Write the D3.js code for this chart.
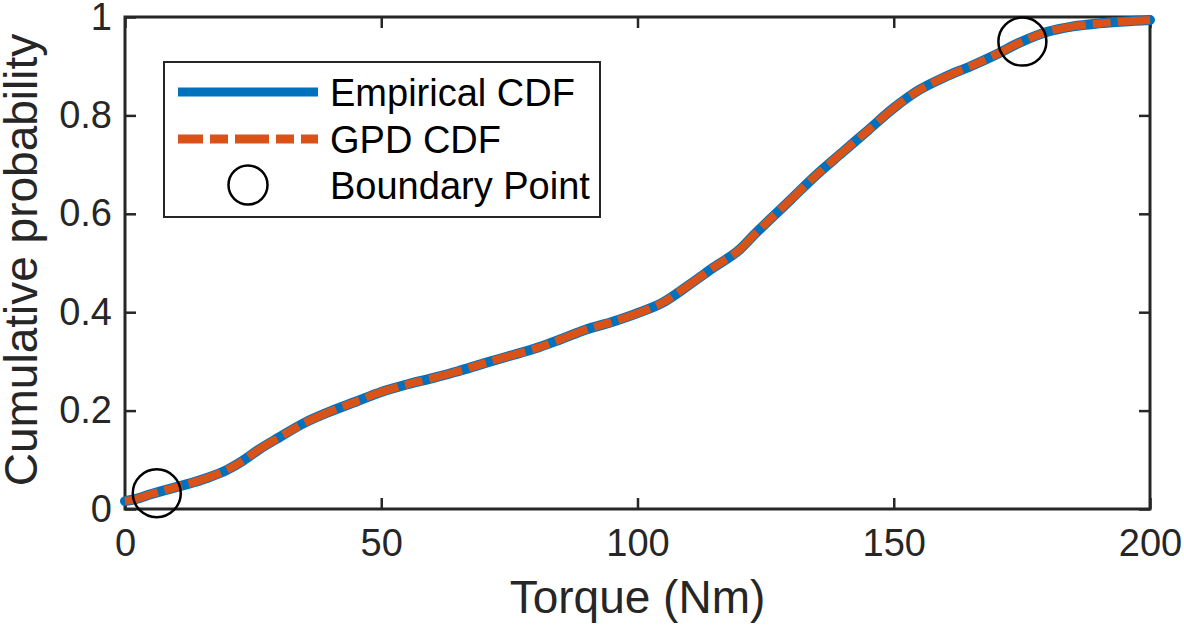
<!DOCTYPE html>
<html>
<head>
<meta charset="utf-8">
<script src="https://cdn.jsdelivr.net/npm/d3@7"></script>
<style>
  html, body { margin: 0; padding: 0; background: #fff; }
  svg { display: block; font-family: "Liberation Sans", Arial, sans-serif; }
</style>
</head>
<body>
<svg id="chart" width="1184" height="626"></svg>
<script>
// ---- data ----
const torque = [0, 2, 5, 8, 12, 16, 20, 23, 26, 30, 35, 40, 45, 50, 55, 60, 65, 70, 75, 80, 85, 90, 95, 100, 105, 110, 115, 120, 123, 126, 130, 135, 140, 145, 150, 155, 160, 165, 170, 175, 180, 185, 190, 195, 200];
const empiricalCdf = [0.016, 0.020, 0.030, 0.039, 0.050, 0.063, 0.080, 0.098, 0.120, 0.145, 0.175, 0.198, 0.218, 0.238, 0.253, 0.266, 0.280, 0.296, 0.311, 0.326, 0.345, 0.365, 0.380, 0.398, 0.420, 0.455, 0.492, 0.528, 0.560, 0.590, 0.630, 0.680, 0.725, 0.770, 0.815, 0.852, 0.878, 0.900, 0.924, 0.950, 0.970, 0.981, 0.987, 0.991, 0.994];
const gpdCdf = [0.016, 0.020, 0.030, 0.039, 0.050, 0.063, 0.080, 0.098, 0.120, 0.145, 0.175, 0.198, 0.218, 0.238, 0.253, 0.266, 0.280, 0.296, 0.311, 0.326, 0.345, 0.365, 0.380, 0.398, 0.420, 0.455, 0.492, 0.528, 0.560, 0.590, 0.630, 0.680, 0.725, 0.770, 0.815, 0.852, 0.878, 0.900, 0.924, 0.950, 0.970, 0.981, 0.987, 0.991, 0.994];
const boundaryTorque = [6.2, 175.1];
const boundaryCdf = [0.032, 0.950];
const xTicks = [0, 50, 100, 150, 200];
const yTicks = [0, 0.2, 0.4, 0.6, 0.8, 1];
const legendLabels = ["Empirical CDF", "GPD CDF", "Boundary Point"];

// ---- layout ----
const svg = d3.select("#chart");
const plotL = 125, plotR = 1150, plotT = 17, plotB = 509;
const x = d3.scaleLinear().domain([0, 200]).range([plotL, plotR]);
const y = d3.scaleLinear().domain([0, 1]).range([plotB, plotT]);
const axisColor = "#262626";
const blue = "#0072BD", orange = "#D95319";
const tickFont = 38, labelFont = 46, legendFont = 38;
const fmt = d3.format("~g");

function styleAxis(g) {
  g.select(".domain").remove();
  g.selectAll(".tick line").attr("stroke", axisColor).attr("stroke-width", 2.5);
  g.selectAll(".tick text").attr("fill", axisColor).style("font-size", tickFont + "px").attr("font-family", "Liberation Sans, Arial, sans-serif");
}
svg.append("g").attr("transform", `translate(0,${plotB})`)
  .call(d3.axisBottom(x).tickValues(xTicks).tickFormat(fmt).tickSizeInner(-11).tickSizeOuter(0).tickPadding(20))
  .call(styleAxis);
svg.append("g").attr("transform", `translate(0,${plotT})`)
  .call(d3.axisTop(x).tickValues(xTicks).tickFormat("").tickSizeInner(-11).tickSizeOuter(0))
  .call(styleAxis);
svg.append("g").attr("transform", `translate(${plotL},0)`)
  .call(d3.axisLeft(y).tickValues(yTicks).tickFormat(fmt).tickSizeInner(-11).tickSizeOuter(0).tickPadding(13))
  .call(styleAxis);
svg.append("g").attr("transform", `translate(${plotR},0)`)
  .call(d3.axisRight(y).tickValues(yTicks).tickFormat("").tickSizeInner(-11).tickSizeOuter(0))
  .call(styleAxis);

svg.append("rect")
  .attr("x", plotL).attr("y", plotT).attr("width", plotR - plotL).attr("height", plotB - plotT)
  .attr("fill", "none").attr("stroke", axisColor).attr("stroke-width", 3);

// axis labels
svg.append("text")
  .attr("x", (plotL + plotR) / 2).attr("y", 613)
  .attr("text-anchor", "middle").attr("fill", axisColor)
  .style("font-size", labelFont + "px")
  .text("Torque (Nm)");
svg.append("text")
  .attr("transform", `translate(37,${(plotT + plotB) / 2 - 3}) rotate(-90)`)
  .attr("text-anchor", "middle").attr("fill", axisColor)
  .style("font-size", labelFont + "px")
  .text("Cumulative probability");

// lines
const line = d3.line().curve(d3.curveMonotoneX);
const empPts = torque.map((t, i) => [x(t), y(empiricalCdf[i])]);
const gpdPts = torque.map((t, i) => [x(t), y(gpdCdf[i])]);
const dash = "34,7,18,7";

svg.append("path").attr("d", line(empPts))
  .attr("fill", "none").attr("stroke", blue).attr("stroke-width", 10)
  .attr("stroke-linejoin", "round").attr("stroke-linecap", "round");
svg.append("path").attr("d", line(gpdPts))
  .attr("fill", "none").attr("stroke", orange).attr("stroke-width", 8)
  .attr("stroke-dasharray", dash).attr("stroke-linecap", "butt");

// boundary points
svg.selectAll("circle.bp").data(boundaryTorque).join("circle")
  .attr("class", "bp")
  .attr("cx", d => x(d)).attr("cy", (d, i) => y(boundaryCdf[i]))
  .attr("r", 24).attr("fill", "none").attr("stroke", "#000").attr("stroke-width", 2.5);

// legend
const lg = svg.append("g");
lg.append("rect").attr("x", 164).attr("y", 62).attr("width", 436).attr("height", 155)
  .attr("fill", "#fff").attr("stroke", axisColor).attr("stroke-width", 2);
const rowY = [92, 139, 185];
lg.append("line").attr("x1", 178).attr("x2", 318).attr("y1", rowY[0]).attr("y2", rowY[0])
  .attr("stroke", blue).attr("stroke-width", 9);
lg.append("line").attr("x1", 178).attr("x2", 318).attr("y1", rowY[1]).attr("y2", rowY[1])
  .attr("stroke", orange).attr("stroke-width", 9).attr("stroke-dasharray", dash).attr("stroke-dashoffset", 9);
lg.append("circle").attr("cx", 248).attr("cy", rowY[2]).attr("r", 19.5)
  .attr("fill", "none").attr("stroke", "#000").attr("stroke-width", 2.5);
lg.selectAll("text.lt").data(legendLabels).join("text")
  .attr("class", "lt")
  .attr("x", 330).attr("y", (d, i) => rowY[i]).attr("dy", "0.36em")
  .attr("fill", "#000").style("font-size", legendFont + "px")
  .text(d => d);
</script>
</body>
</html>
